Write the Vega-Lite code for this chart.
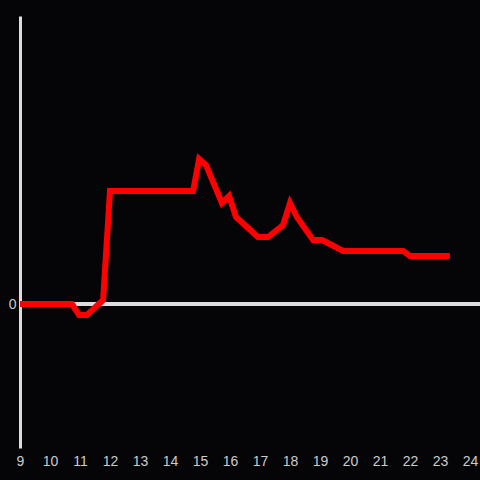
{
  "$schema": "https://vega.github.io/schema/vega-lite/v6.json",
  "width": 460,
  "height": 432,
  "autosize": "none",
  "padding": {"left": 20, "top": 16, "right": 0, "bottom": 32},
  "background": "#050407",
  "config": {"view": {"stroke": null}, "font": "Liberation Sans"},
  "data": {"values": [
    {"x": 9.0, "y": 0},
    {"x": 10.73, "y": 0},
    {"x": 10.97, "y": -11},
    {"x": 11.23, "y": -11},
    {"x": 11.77, "y": 4},
    {"x": 12.0, "y": 113},
    {"x": 14.77, "y": 113},
    {"x": 14.97, "y": 145},
    {"x": 15.2, "y": 139},
    {"x": 15.73, "y": 101},
    {"x": 15.97, "y": 108},
    {"x": 16.2, "y": 87},
    {"x": 16.93, "y": 67},
    {"x": 17.27, "y": 67},
    {"x": 17.77, "y": 79},
    {"x": 18.0, "y": 101},
    {"x": 18.23, "y": 87},
    {"x": 18.77, "y": 64},
    {"x": 19.07, "y": 64},
    {"x": 19.77, "y": 53},
    {"x": 21.77, "y": 53},
    {"x": 22.0, "y": 48},
    {"x": 23.33, "y": 48}
  ]},
  "layer": [
    {
      "mark": {"type": "rule", "color": "#dddddd", "strokeWidth": 3},
      "encoding": {"y": {"datum": 0, "type": "quantitative", "scale": {"domain": [-144, 288]}}}
    },
    {
      "mark": {"type": "line", "color": "#ff0000", "strokeWidth": 6, "strokeJoin": "miter", "strokeCap": "butt"},
      "encoding": {
        "x": {"field": "x", "type": "quantitative",
              "scale": {"domain": [9, 24.333], "nice": false, "zero": false},
              "axis": {"values": [9,10,11,12,13,14,15,16,17,18,19,20,21,22,23,24], "domain": false, "ticks": false, "grid": false, "labelColor": "#cccccc", "labelFontSize": 14, "labelPadding": 6, "labelFlush": false, "title": null, "format": "d"}},
        "y": {"field": "y", "type": "quantitative",
              "scale": {"domain": [-144, 288], "nice": false, "zero": false},
              "axis": {"values": [0], "domain": true, "domainColor": "#dddddd", "domainWidth": 3, "ticks": false, "grid": false, "labelColor": "#cccccc", "labelFontSize": 14, "labelPadding": 4, "title": null}}
      }
    }
  ]
}
